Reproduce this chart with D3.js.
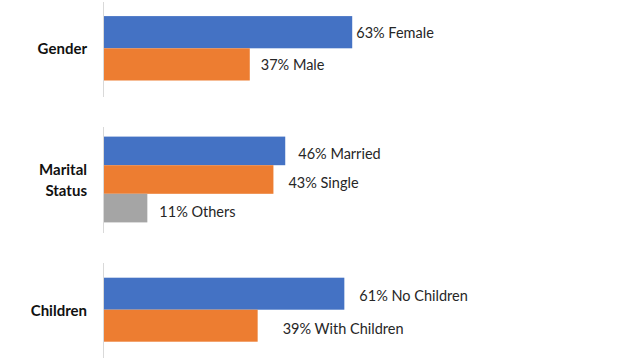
<!DOCTYPE html>
<html><head><meta charset="utf-8">
<script src="https://cdn.jsdelivr.net/npm/d3@7/dist/d3.min.js"></script>
<style>body{margin:0;background:#fff}svg{display:block}</style>
</head><body><svg id="c" width="630" height="358"></svg>
<script>
// Data
const groups = ["Gender", "Marital Status", "Children"];
const groupLines = [["Gender"], ["Marital", "Status"], ["Children"]];
const genderCats = ["Female", "Male"];
const genderVals = [63, 37];
const maritalCats = ["Married", "Single", "Others"];
const maritalVals = [46, 43, 11];
const childrenCats = ["No Children", "With Children"];
const childrenVals = [61, 39];

// Layout / style
const colors = ["#4472C4", "#ED7D31", "#A5A5A5"];
const panels = [
  {cats: genderCats, vals: genderVals, y0: 2, y1: 97, center: 48.3, barH: 32.2, dx: [4, 11], dy: [0, 0.5]},
  {cats: maritalCats, vals: maritalVals, y0: 127, y1: 233, center: 179.5, barH: 28.6, dx: [13, 15, 12], dy: [3, 3, 3]},
  {cats: childrenCats, vals: childrenVals, y0: 263, y1: 358, center: 309.7, barH: 32, dx: [15, 25], dy: [2, 3]}
];
const font = "Lato, 'Open Sans', sans-serif";
const svg = d3.select("#c");
const x = d3.scaleLinear().domain([0, 100]).range([104, 104 + 394]);

panels.forEach((p, gi) => {
  const n = p.cats.length;
  const y = d3.scaleBand().domain(p.cats)
    .range([p.center - n * p.barH / 2, p.center + n * p.barH / 2]).padding(0);
  const g = svg.append("g");
  g.append("line").attr("x1", 103.5).attr("x2", 103.5).attr("y1", p.y0).attr("y2", p.y1)
    .attr("stroke", "#d9d9d9").attr("stroke-width", 1);
  p.cats.forEach((c, i) => {
    g.append("rect").attr("x", x(0)).attr("y", y(c)).attr("width", x(p.vals[i]) - x(0))
      .attr("height", y.bandwidth()).attr("fill", colors[i]);
    g.append("text").attr("x", x(p.vals[i]) + p.dx[i]).attr("y", y(c) + y.bandwidth() / 2 + p.dy[i])
      .attr("dominant-baseline", "central").attr("font-family", font).attr("font-size", 14.5)
      .attr("fill", "#262626").text(p.vals[i] + "% " + c);
  });
  const lines = groupLines[gi];
  lines.forEach((t, li) => {
    g.append("text").attr("x", 87).attr("y", p.center + (li - (lines.length - 1) / 2) * 21.5)
      .attr("text-anchor", "end").attr("dominant-baseline", "central")
      .attr("font-family", font).attr("font-weight", "bold").attr("font-size", 15)
      .attr("fill", "#111").text(t);
  });
});
</script></body></html>
